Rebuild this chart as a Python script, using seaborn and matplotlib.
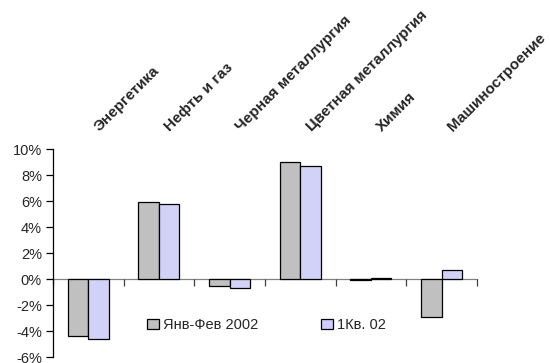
import matplotlib
matplotlib.use("Agg")
import matplotlib.pyplot as plt
from matplotlib.patches import Patch
import seaborn as sns
import pandas as pd

# Sectors (column headers) and growth, %
sectors = ["Энергетика", "Нефть и газ", "Черная металлургия",
           "Цветная металлургия", "Химия", "Машиностроение"]
series_names = ["Янв-Фев 2002", "1Кв. 02"]
jan_feb_2002 = [-4.4, 5.9, -0.5, 9.0, -0.1, -2.9]
q1_2002 = [-4.6, 5.8, -0.7, 8.7, 0.1, 0.7]
y_ticks = [-6, -4, -2, 0, 2, 4, 6, 8, 10]
y_tick_labels = ["-6%", "-4%", "-2%", "0%", "2%", "4%", "6%", "8%", "10%"]

colors = ["#C0C0C0", "#CCCCFF"]

df = pd.DataFrame({
    "sector": sectors * 2,
    "series": [series_names[0]] * len(sectors) + [series_names[1]] * len(sectors),
    "value": jan_feb_2002 + q1_2002,
})

sns.set_style("white")
plt.rcParams["font.family"] = ["Liberation Sans", "DejaVu Sans"]

fig = plt.figure(figsize=(5.5, 3.63), dpi=100)
ax = fig.add_axes([0.0964, 0.0165, 0.7706, 0.573])

sns.barplot(data=df, x="sector", y="value", hue="series", order=sectors,
            hue_order=series_names, palette=colors, width=0.58, gap=0,
            edgecolor="black", linewidth=0.9, legend=False, ax=ax)

ax.set_xlim(-0.5, len(sectors) - 0.5)
ax.set_ylim(-6, 10)
ax.set_xlabel("")
ax.set_ylabel("")

# Axis lines: left spine plus horizontal axis through zero
for side in ["top", "right"]:
    ax.spines[side].set_visible(False)
ax.spines["left"].set_color("black")
ax.spines["left"].set_linewidth(0.9)
ax.spines["bottom"].set_position(("data", 0))
ax.spines["bottom"].set_color("#808080")
ax.spines["bottom"].set_linewidth(0.9)
ax.spines["bottom"].set_zorder(0.5)

ax.set_xticks([i - 0.5 for i in range(len(sectors) + 1)])
ax.set_xticklabels([])
ax.tick_params(axis="x", direction="out", length=5, width=0.9,
               color="#404040", bottom=True)
ax.set_yticks(y_ticks)
ax.set_yticklabels(y_tick_labels)
ax.tick_params(axis="y", direction="out", length=5, width=0.9,
               color="black", left=True, labelsize=10.5, pad=3)

# Rotated sector headers above the plot
for i, name in enumerate(sectors):
    ax.text(i + 0.16, 1.082, name, transform=ax.get_xaxis_transform(),
            rotation=45, rotation_mode="anchor", ha="left", va="baseline",
            fontsize=11, fontweight="bold", clip_on=False)

handles = [Patch(facecolor=c, edgecolor="black", linewidth=0.9) for c in colors]
fig.legend(handles, series_names, loc="center left",
           bbox_to_anchor=(147 / 550, 1 - 325 / 363), ncol=2, frameon=False,
           fontsize=10.5, handlelength=0.8, handleheight=0.75,
           handletextpad=0.3, columnspacing=4.3, borderpad=0, borderaxespad=0)

fig.savefig("out.png", dpi=100)
